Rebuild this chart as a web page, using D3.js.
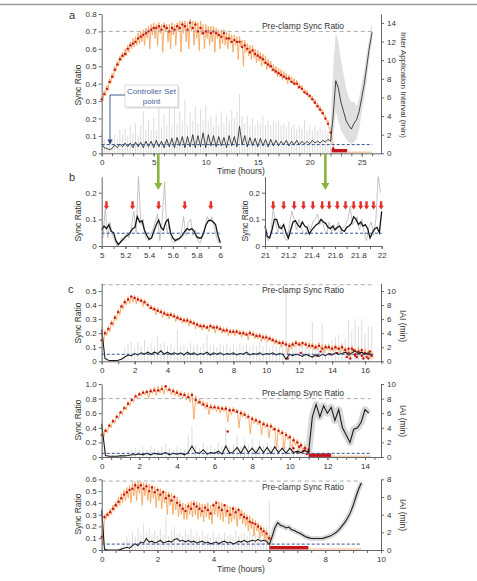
<!DOCTYPE html>
<html lang="en">
<head>
<meta charset="UTF-8">
<title>Sync ratio clamp</title>
<script src="https://cdn.jsdelivr.net/npm/d3@7"></script>
<style>
  body { margin: 0; background: #fff; }
  svg text { font-family: "Liberation Sans", Arial, sans-serif; fill: #333; }
  .axis path, .axis line { stroke: #666; }
  .axis text { font-size: 8px; fill: #333; font-family: "Liberation Sans", Arial, sans-serif; }
</style>
</head>
<body>
<svg id="fig" width="477" height="581"></svg>
<script>
// ---------- shared ----------
const setPoint = 0.05;

// ---------- panel a (whole clamp, 0-26 h, samples every 0.25 h) ----------
const aTicksX = [0, 5, 10, 15, 20, 25];
const aTicksY = [0, 0.1, 0.2, 0.3, 0.4, 0.5, 0.6, 0.7, 0.8];
const aTicksIAI = [0, 2, 4, 6, 8, 10, 12, 14];
const aStep = 0.25;
const aPreClamp = 0.7;
const aDots = [0.31,0.34,0.37,0.41,0.44,0.48,0.51,0.54,0.56,0.57,
  0.60,0.62,0.63,0.64,0.66,0.67,0.68,0.69,0.70,0.71,
  0.72,0.72,0.73,0.71,0.73,0.72,0.70,0.72,0.71,0.73,
  0.72,0.74,0.73,0.71,0.75,0.72,0.74,0.70,0.72,0.69,
  0.70,0.70,0.69,0.70,0.69,0.68,0.67,0.69,0.66,0.66,
  0.64,0.65,0.64,0.64,0.61,0.62,0.60,0.58,0.59,0.57,
  0.56,0.55,0.54,0.52,0.51,0.50,0.48,0.47,0.46,0.45,
  0.44,0.43,0.43,0.41,0.40,0.40,0.38,0.37,0.35,0.34,
  0.33,0.31,0.29,0.27,0.25,0.23,0.20,0.17,0.12,0.03];
const aHi = [0.33,0.36,0.39,0.43,0.46,0.50,0.53,0.56,0.58,0.60,
  0.62,0.64,0.66,0.67,0.69,0.70,0.71,0.72,0.73,0.74,
  0.75,0.74,0.75,0.74,0.75,0.74,0.74,0.75,0.74,0.75,
  0.76,0.76,0.76,0.75,0.77,0.76,0.76,0.75,0.76,0.74,
  0.74,0.73,0.73,0.73,0.72,0.71,0.71,0.71,0.70,0.69,
  0.68,0.68,0.67,0.67,0.65,0.65,0.63,0.62,0.62,0.60,
  0.59,0.58,0.57,0.56,0.54,0.53,0.51,0.50,0.49,0.48,
  0.47,0.46,0.45,0.44,0.43,0.42,0.40,0.39,0.37,0.36,
  0.34,0.33,0.31,0.29,0.27,0.25,0.22,0.19,0.14,0.05];
const aLo = [0.30,0.33,0.36,0.40,0.43,0.47,0.50,0.53,0.55,0.56,
  0.58,0.60,0.61,0.62,0.63,0.64,0.62,0.66,0.60,0.68,
  0.66,0.62,0.69,0.58,0.70,0.64,0.60,0.68,0.62,0.70,
  0.58,0.69,0.64,0.60,0.70,0.62,0.66,0.59,0.68,0.60,
  0.66,0.62,0.64,0.58,0.66,0.60,0.63,0.62,0.60,0.63,
  0.58,0.62,0.54,0.61,0.50,0.58,0.56,0.54,0.55,0.52,
  0.53,0.50,0.51,0.48,0.49,0.47,0.46,0.44,0.44,0.42,
  0.43,0.40,0.41,0.40,0.39,0.37,0.37,0.35,0.34,0.32,
  0.31,0.29,0.27,0.25,0.23,0.21,0.18,0.14,0.08,0.01];
const aIAI = [1.0,0.6,0.5,0.4,0.5,0.9,0.6,1.0,0.7,1.1,
  0.7,1.1,0.6,1.2,0.7,1.2,0.6,1.3,0.7,1.3,
  0.6,1.4,0.7,1.3,0.6,1.5,0.7,1.6,0.6,1.7,
  0.8,1.8,0.6,1.8,0.7,2.0,0.6,1.9,0.7,2.2,
  0.6,2.0,0.8,1.9,0.7,1.8,0.8,1.7,0.6,1.9,
  0.8,1.8,0.7,2.9,0.9,1.9,0.7,1.7,0.8,1.6,
  0.7,1.6,0.8,1.5,0.7,1.5,0.8,1.4,0.8,1.3,
  0.9,1.4,0.8,1.3,0.9,1.4,0.9,1.3,1.0,1.3,
  1.0,1.4,1.1,1.3,1.1,1.4,1.2,1.5,1.3,4.0,
  7.8,7.0,5.5,4.5,3.5,3.0,2.6,3.2,3.6,4.5,
  6.0,7.5,9.5,11.5,13.0];
const aIAIraw = [2.5,1.5,1.0,1.0,1.5,2.0,1.5,2.5,2.0,2.6,
  1.8,3.0,2.2,3.2,2.0,3.0,4.5,2.5,3.5,2.5,
  3.8,2.5,5.5,2.8,4.2,3.0,5.0,3.0,4.8,3.2,
  4.5,3.5,5.8,3.0,4.5,3.5,5.0,3.2,4.8,3.5,
  5.2,3.5,4.0,3.0,4.2,3.0,4.5,3.2,4.0,3.5,
  4.6,3.8,4.5,6.4,4.0,3.2,4.0,3.0,3.8,3.0,
  3.5,3.2,4.0,3.0,3.5,3.0,3.5,3.2,3.5,3.0,
  3.2,2.8,3.4,2.8,3.2,2.6,3.0,2.6,3.6,2.5,
  3.0,2.5,3.0,2.4,2.8,2.5,2.6,2.4,3.0];
const aBandStart = 22;
const aBandHi = [3,9,13,12,10,8.5,7,6,5.5,5.5,5,6,7.5,9,11,12.5,14];
const aBandLo = [0.5,1.5,4.5,3.5,2.5,2,1.5,1.2,1,1.2,1.5,2.5,4.5,6,8,10.5,12];
const aOff = [22.1, 23.6, 26.0];

// ---------- panel b (zoom windows, samples every 0.02 h) ----------
const bTicksLeft = [5, 5.2, 5.4, 5.6, 5.8, 6];
const bTicksRight = [21, 21.2, 21.4, 21.6, 21.8, 22];
const bTicksY = [0, 0.1, 0.2];
const bStep = 0.02;
const bLeftBlack = [0.06,0.075,0.065,0.08,0.055,0.05,0.02,0.005,0.015,0.025,
  0.035,0.04,0.05,0.065,0.07,0.11,0.09,0.095,0.06,0.04,
  0.025,0.03,0.055,0.08,0.098,0.07,0.06,0.09,0.1,0.05,
  0.03,0.02,0.025,0.03,0.04,0.055,0.065,0.06,0.065,0.055,
  0.035,0.03,0.03,0.05,0.08,0.095,0.097,0.09,0.08,0.04,0.012];
const bLeftRaw = [0.03,0.14,0.03,0.09,0.04,0.02,0.0,0.01,0.03,0.02,
  0.05,0.03,0.07,0.13,0.05,0.26,0.08,0.1,0.03,0.02,
  0.04,0.06,0.09,0.12,0.02,0.1,0.24,0.05,0.08,0.02,
  0.01,0.03,0.02,0.05,0.11,0.04,0.09,0.1,0.04,0.06,
  0.02,0.01,0.04,0.07,0.11,0.09,0.11,0.07,0.03,0.01];
const bRightBlack = [0.075,0.035,0.03,0.06,0.1,0.1,0.07,0.065,0.08,0.05,
  0.03,0.06,0.09,0.095,0.08,0.07,0.09,0.075,0.07,0.045,
  0.06,0.07,0.08,0.085,0.1,0.09,0.085,0.07,0.065,0.075,
  0.06,0.07,0.075,0.06,0.055,0.07,0.075,0.085,0.11,0.1,
  0.08,0.09,0.075,0.08,0.065,0.03,0.05,0.065,0.07,0.05,0.13];
const bRightRaw = [0.04,0.02,0.05,0.14,0.09,0.05,0.08,0.06,0.03,0.02,
  0.08,0.13,0.1,0.06,0.1,0.07,0.05,0.04,0.08,0.06,
  0.09,0.1,0.12,0.08,0.1,0.06,0.05,0.09,0.05,0.08,
  0.06,0.09,0.05,0.07,0.08,0.1,0.15,0.08,0.09,0.11,
  0.06,0.1,0.05,0.02,0.07,0.09,0.04,0.1,0.26,0.2];
const bArrowsLeft = [5.04, 5.26, 5.48, 5.70, 5.92];
const bArrowsRight = [21.07, 21.16, 21.25, 21.33, 21.41, 21.49, 21.55, 21.62, 21.69, 21.76, 21.82, 21.87, 21.93, 21.995];

// ---------- panel c1 (samples every 0.2 h) ----------
const c1TicksX = [0, 2, 4, 6, 8, 10, 12, 14, 16];
const c1TicksY = [0, 0.1, 0.2, 0.3, 0.4, 0.5];
const c1TicksIAI = [0, 2, 4, 6, 8, 10];
const c1Step = 0.2;
const c1PreClamp = 0.545;
const c1Dots = [0.15,0.20,0.23,0.27,0.31,0.35,0.39,0.42,0.44,0.46,
  0.45,0.44,0.43,0.42,0.40,0.38,0.37,0.36,0.35,0.34,
  0.33,0.33,0.32,0.31,0.30,0.29,0.29,0.28,0.27,0.26,
  0.25,0.25,0.24,0.25,0.24,0.24,0.23,0.22,0.22,0.21,
  0.21,0.21,0.20,0.20,0.19,0.20,0.19,0.18,0.18,0.17,
  0.17,0.16,0.15,0.14,0.13,0.13,0.12,0.11,0.12,0.13,
  0.12,0.13,0.12,0.11,0.11,0.10,0.11,0.09,0.10,0.10,
  0.09,0.10,0.09,0.10,0.08,0.06,0.09,0.05,0.07,0.04,
  0.06,0.05,0.04];
const c1LowT = [11.3,12.1,13.1,13.3,13.9,14.3,14.9,15.1,15.3,15.5,15.7,15.9,16.1,16.3,15.0,15.4,15.8,16.2];
const c1LowV = [0.02,0.06,0.04,0.07,0.05,0.06,0.03,0.02,0.08,0.03,0.06,0.02,0.03,0.07,0.09,0.04,0.08,0.02];
const c1Hi = [0.20,0.22,0.25,0.29,0.33,0.37,0.41,0.44,0.46,0.47,
  0.47,0.46,0.45,0.44,0.42,0.40,0.39,0.38,0.37,0.36,
  0.35,0.35,0.34,0.33,0.32,0.31,0.31,0.30,0.29,0.28,
  0.27,0.27,0.26,0.27,0.26,0.26,0.25,0.24,0.24,0.23,
  0.23,0.23,0.22,0.22,0.21,0.22,0.21,0.20,0.20,0.19,
  0.19,0.18,0.17,0.16,0.15,0.15,0.14,0.13,0.14,0.15,
  0.14,0.14,0.14,0.13,0.13,0.12,0.13,0.12,0.12,0.12,
  0.11,0.12,0.11,0.12,0.10,0.10,0.11,0.09,0.10,0.09,
  0.09,0.08,0.07];
const c1Lo = [0.12,0.18,0.21,0.25,0.29,0.33,0.37,0.40,0.41,0.42,
  0.41,0.42,0.39,0.40,0.37,0.36,0.33,0.34,0.31,0.32,
  0.30,0.31,0.28,0.29,0.27,0.27,0.25,0.26,0.23,0.24,
  0.22,0.23,0.21,0.23,0.20,0.22,0.20,0.20,0.18,0.19,
  0.18,0.19,0.17,0.18,0.15,0.18,0.16,0.16,0.14,0.15,
  0.14,0.14,0.12,0.12,0.10,0.11,0.05,0.09,0.10,0.11,
  0.10,0.11,0.09,0.09,0.08,0.08,0.09,0.06,0.08,0.07,
  0.07,0.08,0.06,0.07,0.04,0.03,0.06,0.02,0.04,0.02,
  0.03,0.02,0.02];
const c1IAI = [4.5,0.4,0.15,0.1,0.1,0.15,0.3,0.6,0.9,0.8,
  1.1,0.9,1.2,1.0,1.3,1.0,1.3,1.1,1.5,1.0,
  1.3,1.0,1.2,1.0,1.2,0.9,1.3,1.0,1.2,0.9,
  1.1,1.0,1.3,0.9,1.2,1.0,1.2,0.9,1.1,1.0,
  1.2,0.9,1.1,1.0,1.3,0.9,1.1,1.0,1.2,0.9,
  1.1,1.0,1.2,0.9,1.1,1.0,0.3,1.0,0.8,1.0,
  0.9,0.7,1.0,0.8,0.6,0.9,0.7,1.0,0.8,1.1,
  0.9,1.2,1.0,1.1,1.3,0.9,1.2,1.5,1.1,1.3,
  1.0,1.2,0.9];
const c1IAIraw = [5.0,0.5,0.3,0.2,0.2,0.3,0.6,1.8,2.5,2.8,
  2.0,2.8,2.2,3.0,2.0,2.6,2.2,3.5,2.5,2.8,
  2.2,2.6,2.0,4.5,2.2,2.5,2.0,2.6,2.2,2.4,
  2.0,2.6,3.8,2.2,2.4,2.0,2.5,2.2,2.6,2.0,
  2.4,2.0,2.6,2.2,2.5,2.0,2.4,2.2,2.6,2.2,
  3.0,2.0,2.4,2.2,2.0,2.4,10.0,2.5,2.2,2.8,
  2.0,2.6,2.4,3.0,5.6,2.2,2.8,5.4,2.4,2.6,
  3.0,3.4,3.8,2.8,3.2,5.8,4.5,6.0,5.0,6.0,
  4.0,5.0,4.9];

// ---------- panel c2 (samples every 0.2 h) ----------
const c2TicksX = [0, 2, 4, 6, 8, 10, 12, 14];
const c2TicksY = [0, 0.2, 0.4, 0.6, 0.8, 1.0];
const c2TicksIAI = [0, 2, 4, 6, 8, 10];
const c2Step = 0.2;
const c2PreClamp = 0.8;
const c2Dots = [0.30,0.36,0.43,0.49,0.55,0.61,0.67,0.73,0.78,0.83,
  0.86,0.88,0.89,0.90,0.91,0.91,0.93,0.97,0.92,0.90,
  0.88,0.86,0.85,0.82,0.85,0.78,0.75,0.72,0.70,0.68,
  0.68,0.67,0.66,0.66,0.64,0.64,0.62,0.60,0.58,0.55,
  0.52,0.50,0.48,0.45,0.43,0.42,0.38,0.36,0.33,0.30,
  0.27,0.23,0.20,0.16,0.12,0.08];
const c2LowT = [6.7, 10.2, 10.4, 10.5, 10.7, 10.8, 10.9, 11.0];
const c2LowV = [0.35, 0.12, 0.06, 0.14, 0.08, 0.12, 0.04, 0.10];
const c2Hi = [0.33,0.39,0.46,0.52,0.58,0.64,0.70,0.76,0.81,0.86,
  0.89,0.91,0.92,0.94,0.96,0.97,0.98,0.98,0.96,0.94,
  0.92,0.90,0.89,0.88,0.88,0.84,0.80,0.77,0.75,0.73,
  0.72,0.71,0.70,0.70,0.68,0.68,0.66,0.64,0.62,0.59,
  0.56,0.54,0.52,0.49,0.47,0.46,0.42,0.40,0.37,0.34,
  0.31,0.27,0.24,0.20,0.16,0.11];
const c2Lo = [0.25,0.33,0.40,0.46,0.52,0.58,0.64,0.70,0.75,0.80,
  0.83,0.85,0.80,0.87,0.84,0.88,0.86,0.90,0.85,0.84,
  0.82,0.80,0.78,0.75,0.52,0.72,0.70,0.66,0.58,0.64,
  0.62,0.60,0.62,0.48,0.58,0.60,0.40,0.55,0.52,0.32,
  0.46,0.44,0.30,0.40,0.26,0.36,0.12,0.30,0.10,0.24,
  0.05,0.16,0.08,0.05,0.03,0.02];
const c2IAI = [4.5,0.2,0.1,0.1,0.1,0.15,0.15,0.2,0.3,0.3,
  0.4,0.3,0.5,0.3,0.5,0.4,0.4,0.6,0.3,0.5,
  0.4,0.5,0.3,0.6,1.5,0.6,0.5,1.0,0.4,0.6,
  0.5,0.8,0.4,1.5,0.5,0.7,1.3,0.5,1.5,0.6,
  1.2,0.5,1.4,0.6,1.3,0.5,1.4,0.6,1.2,0.5,
  1.2,0.6,0.8,0.6,0.9,0.6,5.5,7.2,5.5,7.0,
  6.0,6.8,5.0,6.5,4.0,3.0,2.0,3.8,4.0,4.8,
  6.5,6.0];
const c2IAIraw = [5.0,1.0,0.3,0.3,0.3,0.4,0.5,0.8,1.0,1.2,
  1.0,1.4,1.0,1.6,1.2,1.0,1.4,1.8,1.2,1.0,
  1.4,1.2,1.0,3.0,4.2,1.6,1.2,2.0,1.4,1.5,
  1.2,2.0,1.5,4.0,1.4,1.8,3.0,1.5,2.5,1.6,
  2.5,1.4,2.2,1.6,2.0,1.5,2.4,1.6,2.0,1.4,
  2.2,1.6,2.0,1.8,2.2,3.0];
const c2Off = [11.0, 12.2, 14.3];

// ---------- panel c3 (samples every 0.1 h) ----------
const c3TicksX = [0, 2, 4, 6, 8, 10];
const c3TicksY = [0, 0.1, 0.2, 0.3, 0.4, 0.5, 0.6];
const c3TicksIAI = [0, 2, 4, 6, 8];
const c3Step = 0.1;
const c3PreClamp = 0.585;
const c3Dots = [0.11,0.28,0.30,0.32,0.35,0.38,0.41,0.44,0.47,0.49,
  0.51,0.52,0.55,0.53,0.55,0.52,0.54,0.50,0.53,0.49,
  0.51,0.47,0.49,0.44,0.46,0.42,0.45,0.40,0.38,0.35,
  0.33,0.37,0.35,0.39,0.37,0.35,0.33,0.36,0.34,0.31,
  0.38,0.40,0.36,0.34,0.38,0.33,0.30,0.35,0.32,0.34,
  0.30,0.28,0.27,0.24,0.23,0.22,0.20,0.18,0.16,0.14,0.10];
const c3Hi = [0.15,0.30,0.32,0.35,0.38,0.41,0.45,0.48,0.51,0.53,
  0.55,0.57,0.58,0.58,0.58,0.57,0.57,0.56,0.55,0.54,
  0.53,0.52,0.51,0.50,0.49,0.48,0.47,0.45,0.42,0.40,
  0.39,0.40,0.41,0.42,0.41,0.40,0.39,0.39,0.40,0.38,
  0.40,0.42,0.41,0.40,0.39,0.38,0.37,0.37,0.36,0.36,
  0.34,0.32,0.30,0.29,0.27,0.25,0.23,0.21,0.19,0.17,0.13];
const c3Lo = [0.05,0.26,0.28,0.30,0.33,0.36,0.38,0.40,0.42,0.44,
  0.40,0.46,0.42,0.48,0.38,0.46,0.42,0.40,0.44,0.36,
  0.42,0.35,0.40,0.30,0.38,0.30,0.34,0.28,0.30,0.26,
  0.26,0.30,0.28,0.30,0.26,0.28,0.24,0.28,0.26,0.22,
  0.30,0.28,0.26,0.24,0.28,0.22,0.24,0.26,0.20,0.26,
  0.22,0.20,0.16,0.18,0.12,0.16,0.10,0.12,0.08,0.08,0.04];
const c3IAI = [4.5,0.1,0.0,0.0,0.0,0.0,0.0,0.1,0.2,0.3,
  0.2,0.5,0.7,0.5,0.9,0.8,1.3,0.9,1.0,0.8,
  0.9,1.1,0.8,0.9,1.0,0.9,1.2,1.3,1.0,1.1,
  0.9,1.1,0.9,1.0,0.8,0.9,1.0,0.8,0.9,0.7,
  0.8,0.9,0.7,0.9,1.0,0.8,0.9,0.7,0.8,1.0,
  0.9,1.1,0.9,1.0,1.1,1.0,1.2,1.0,1.1,1.0,
  0.6,1.5,2.5,3.1,2.8,2.7,2.5,2.6,2.3,2.2,
  2.0,1.9,1.7,1.5,1.4,1.3,1.3,1.3,1.3,1.3,
  1.4,1.5,1.6,1.8,2.0,2.3,2.7,3.1,3.6,4.2,
  5.0,6.0,6.9,7.6];
const c3IAIraw = [4.8,0.3,0.1,0.1,0.1,0.1,0.2,0.5,1.0,1.5,
  1.2,2.0,1.5,2.5,1.8,3.0,2.0,2.5,1.8,2.2,
  1.6,2.4,1.8,3.8,1.6,2.2,2.6,1.8,2.0,1.6,
  2.2,1.8,2.4,1.6,2.0,1.5,2.2,1.6,1.8,1.4,
  2.0,1.5,1.8,1.4,2.0,1.6,1.8,1.5,2.2,1.6,
  1.8,2.0,1.6,2.2,1.8,2.0,1.6,2.2,1.8,2.6,5.6];
const c3Off = [6.0, 7.4, 9.3];

// ---------- drawing ----------
const svg = d3.select('#fig');
const RED = '#c5161d', ORANGE = '#f6a55c', GRAY = '#d3d3d3', BLUE = '#34528f', PEACH = '#f4cfae';
const fmt1 = d => d === 0 ? '0' : d3.format('.1f')(d);

// top rule
svg.append('line').attr('x1', 0).attr('x2', 477).attr('y1', 4.5).attr('y2', 4.5)
  .attr('stroke', '#9a9a9a').attr('stroke-width', 1.5);

function setup(p) {
  p.x = d3.scaleLinear().domain(p.xDom).range([p.left, p.right]);
  p.y = d3.scaleLinear().domain(p.yDom).range([p.bottom, p.top]);
  if (p.y2Dom) p.y2 = d3.scaleLinear().domain(p.y2Dom).range([p.bottom, p.top]);
  p.g = svg.append('g');
  p.marks = p.g.append('g');
  const ax = p.g.append('g');
  ax.append('g').attr('class', 'axis').attr('transform', `translate(0,${p.bottom})`)
    .call(d3.axisBottom(p.x).tickValues(p.xMinor).tickSize(3).tickFormat(''))
    .select('.domain').remove();
  ax.append('g').attr('class', 'axis').attr('transform', `translate(0,${p.bottom})`)
    .call(d3.axisBottom(p.x).tickValues(p.xMajor).tickSize(3).tickSizeOuter(0).tickPadding(3)
      .tickFormat(p.xFmt || d3.format('~g')));
  ax.append('g').attr('class', 'axis').attr('transform', `translate(${p.left},0)`)
    .call(d3.axisLeft(p.y).tickValues(p.yTicks).tickSize(3).tickSizeOuter(0).tickPadding(2).tickFormat(p.yFmt || fmt1));
  if (p.y2) {
    ax.append('g').attr('class', 'axis').attr('transform', `translate(${p.right},0)`)
      .call(d3.axisRight(p.y2).tickValues(p.y2Ticks).tickSize(3).tickSizeOuter(0).tickPadding(3).tickFormat(d3.format('d')));
  }
  return p;
}

function vlabel(x, y, txt, rot, size) {
  svg.append('text').attr('transform', `translate(${x},${y}) rotate(${rot})`)
    .attr('text-anchor', 'middle').attr('dominant-baseline', 'central')
    .attr('font-size', size || 8.5).text(txt);
}

function drawClamp(p, s) {
  const g = p.marks;
  const line = d3.line();
  // raw inter application intervals (gray)
  g.append('g').selectAll('line').data(s.raw).join('line')
    .attr('x1', (d, i) => p.x(i * s.step)).attr('x2', (d, i) => p.x(i * s.step))
    .attr('y1', p.y2(0)).attr('y2', d => p.y2(d))
    .attr('stroke', GRAY).attr('stroke-width', 0.8);
  // post-clamp spread
  if (s.bandHi) {
    const area = d3.area().x((d, i) => p.x(s.bandStart + i * s.step))
      .y0((d, i) => p.y2(s.bandLo[i])).y1(d => p.y2(d));
    g.append('path').attr('d', area(s.bandHi)).attr('fill', '#e0e0e0');
  }
  if (s.haloFrom != null) {
    const pts = s.iai.map((v, i) => [p.x(i * s.iaiStep), p.y2(v)]).slice(s.haloFrom);
    g.append('path').attr('d', line(pts)).attr('fill', 'none')
      .attr('stroke', '#d9d9d9').attr('stroke-width', s.haloW).attr('stroke-linejoin', 'round');
  }
  // orange raw sync ratio
  const zz = [];
  const n = Math.min(s.hi.length, s.lo.length);
  for (let i = 0; i < n; i++) {
    zz.push([p.x(i * s.step), p.y(s.hi[i])]);
    zz.push([p.x((i + 0.5) * s.step), p.y(s.lo[i])]);
  }
  g.append('path').attr('d', line(zz)).attr('fill', 'none')
    .attr('stroke', ORANGE).attr('stroke-width', 0.9);
  // red clamp dots
  g.append('g').selectAll('circle').data(s.dots).join('circle')
    .attr('cx', (d, i) => p.x(i * s.step)).attr('cy', d => p.y(d))
    .attr('r', 1.2).attr('fill', RED);
  if (s.lowT) {
    g.append('g').selectAll('circle').data(s.lowV).join('circle')
      .attr('cx', (d, i) => p.x(s.lowT[i])).attr('cy', d => p.y(d))
      .attr('r', 1.2).attr('fill', RED);
  }
  // post-clamp bars
  if (s.off) {
    g.append('line').attr('x1', p.x(s.off[1])).attr('x2', p.x(s.off[2]))
      .attr('y1', p.y(s.offY * 0.4)).attr('y2', p.y(s.offY * 0.4))
      .attr('stroke', PEACH).attr('stroke-width', 1.6);
    g.append('line').attr('x1', p.x(s.off[0])).attr('x2', p.x(s.off[1]))
      .attr('y1', p.y(s.offY)).attr('y2', p.y(s.offY))
      .attr('stroke', RED).attr('stroke-width', 3.5);
  }
  // smoothed IAI (black)
  g.append('path').attr('d', line(s.iai.map((v, i) => [p.x(i * s.iaiStep), p.y2(v)])))
    .attr('fill', 'none').attr('stroke', '#1c1c1c').attr('stroke-width', s.blackW || 1);
  // set point and pre-clamp level
  g.append('line').attr('x1', p.x(0)).attr('x2', p.x(s.end))
    .attr('y1', p.y(setPoint)).attr('y2', p.y(setPoint))
    .attr('stroke', BLUE).attr('stroke-width', 1).attr('stroke-dasharray', '3,2');
  g.append('line').attr('x1', p.x(0)).attr('x2', p.x(s.end))
    .attr('y1', p.y(s.pre)).attr('y2', p.y(s.pre))
    .attr('stroke', '#ababab').attr('stroke-width', 1).attr('stroke-dasharray', '4,3');
  svg.append('text').attr('x', 303).attr('y', s.preLabelY).attr('text-anchor', 'middle')
    .attr('font-size', 8.5).text('Pre-clamp Sync Ratio');
}

// ----- panel a -----
const pa = setup({ left: 101.7, right: 381, top: 14, bottom: 153.3,
  xDom: [0, 26.85], yDom: [0, 0.8], y2Dom: [0, 14.96],
  xMajor: aTicksX, xMinor: d3.range(0, 27, 1), yTicks: aTicksY, y2Ticks: aTicksIAI });
drawClamp(pa, { step: aStep, iaiStep: aStep, dots: aDots, hi: aHi, lo: aLo, iai: aIAI, raw: aIAIraw,
  bandStart: aBandStart, bandHi: aBandHi, bandLo: aBandLo, off: aOff, offY: 0.015,
  end: 26, pre: aPreClamp, preLabelY: 28.5, blackW: 0.8 });
vlabel(78, 85, 'Sync Ratio', -90);
vlabel(403, 85, 'Inter Application Interval (min)', 90, 8);
svg.append('text').attr('x', 241).attr('y', 174).attr('text-anchor', 'middle').attr('font-size', 8.5).text('Time (hours)');
svg.append('text').attr('x', 69).attr('y', 19).attr('font-size', 11).text('a');

// controller set point callout
svg.append('rect').attr('x', 126.5).attr('y', 86.5).attr('width', 53).attr('height', 22).attr('fill', '#dcdcdc');
svg.append('rect').attr('x', 125).attr('y', 85).attr('width', 53).attr('height', 22)
  .attr('fill', '#fff').attr('stroke', '#cfcfcf').attr('stroke-width', 0.7);
svg.append('text').attr('x', 151.5).attr('y', 94).attr('text-anchor', 'middle').attr('font-size', 8)
  .style('fill', '#4a5fa0').text('Controller Set');
svg.append('text').attr('x', 151.5).attr('y', 103.5).attr('text-anchor', 'middle').attr('font-size', 8)
  .style('fill', '#4a5fa0').text('point');
svg.append('path').attr('d', 'M125,95 H110 V140').attr('fill', 'none').attr('stroke', '#2e4a82').attr('stroke-width', 0.9);
svg.append('path').attr('d', 'M107.5,139.5 L112.5,139.5 L110,145 Z').attr('fill', '#2e4a82');

// ----- panel b -----
function drawZoom(p, black, raw, arrows, t0) {
  const line = d3.line();
  p.marks.append('path').attr('d', line(raw.map((v, i) => [p.x(t0 + bStep / 2 + i * bStep), p.y(v)])))
    .attr('fill', 'none').attr('stroke', '#b5b5b5').attr('stroke-width', 0.8);
  p.marks.append('path').attr('d', line(black.map((v, i) => [p.x(t0 + i * bStep), p.y(v)])))
    .attr('fill', 'none').attr('stroke', '#151515').attr('stroke-width', 1.3);
  p.marks.append('line').attr('x1', p.x(t0)).attr('x2', p.x(t0 + 1))
    .attr('y1', p.y(0.048)).attr('y2', p.y(0.048))
    .attr('stroke', BLUE).attr('stroke-width', 1).attr('stroke-dasharray', '3,2');
  p.marks.append('g').selectAll('path').data(arrows).join('path')
    .attr('d', d => {
      const x = p.x(d), y0 = p.y(0.168), y1 = p.y(0.151), y2 = p.y(0.137);
      return `M${x - 1.2},${y0} H${x + 1.2} V${y1} H${x + 2.7} L${x},${y2} L${x - 2.7},${y1} H${x - 1.2} Z`;
    })
    .attr('fill', '#e3302a');
}
const pbL = setup({ left: 101.7, right: 220.3, top: 176.7, bottom: 246,
  xDom: [5, 6], yDom: [0, 0.26], xMajor: bTicksLeft, xMinor: d3.range(5, 6.05, 0.1), yTicks: bTicksY });
drawZoom(pbL, bLeftBlack, bLeftRaw, bArrowsLeft, 5);
const pbR = setup({ left: 265, right: 381.7, top: 176.7, bottom: 246,
  xDom: [21, 22], yDom: [0, 0.26], xMajor: bTicksRight, xMinor: d3.range(21, 22.05, 0.1), yTicks: bTicksY });
drawZoom(pbR, bRightBlack, bRightRaw, bArrowsRight, 21);
vlabel(78, 221, 'Sync Ratio', -90);
vlabel(245, 221, 'Sync Ratio', -90);
svg.append('text').attr('x', 69).attr('y', 181).attr('font-size', 11).text('b');

// green arrows from panel a to the zoom windows
[5.44, 21.5].forEach(t => {
  const x = pa.x(t);
  svg.append('path')
    .attr('d', `M${x - 1.3},154 V183 H${x - 4} L${x},190 L${x + 4},183 H${x + 1.3} V154 Z`)
    .attr('fill', '#8ab43c');
});

// ----- panel c1 -----
const pc1 = setup({ left: 101.7, right: 381, top: 283.3, bottom: 361.3,
  xDom: [0, 16.97], yDom: [0, 0.555], y2Dom: [0, 11.1],
  xMajor: c1TicksX, xMinor: d3.range(0, 17.5, 1), yTicks: c1TicksY, y2Ticks: c1TicksIAI });
drawClamp(pc1, { step: c1Step, iaiStep: c1Step, dots: c1Dots, hi: c1Hi, lo: c1Lo, iai: c1IAI, raw: c1IAIraw,
  lowT: c1LowT, lowV: c1LowV, end: 16.5, pre: c1PreClamp, preLabelY: 293, blackW: 1.1 });
vlabel(78, 323, 'Sync Ratio', -90);
vlabel(403, 326, 'IAI (min)', 90);
svg.append('text').attr('x', 68).attr('y', 293).attr('font-size', 11).text('c');

// ----- panel c2 -----
const pc2 = setup({ left: 101.7, right: 381, top: 384, bottom: 457,
  xDom: [0, 14.85], yDom: [0, 1], y2Dom: [0, 10],
  xMajor: c2TicksX, xMinor: d3.range(0, 14.85, 0.5), yTicks: c2TicksY, y2Ticks: c2TicksIAI });
drawClamp(pc2, { step: c2Step, iaiStep: c2Step, dots: c2Dots, hi: c2Hi, lo: c2Lo, iai: c2IAI, raw: c2IAIraw,
  lowT: c2LowT, lowV: c2LowV, off: c2Off, offY: 0.025, haloFrom: 55, haloW: 7,
  end: 14.3, pre: c2PreClamp, preLabelY: 396, blackW: 1.1 });
vlabel(78, 420, 'Sync Ratio', -90);
vlabel(403, 421, 'IAI (min)', 90);

// ----- panel c3 -----
const pc3 = setup({ left: 101.7, right: 381, top: 479.3, bottom: 550,
  xDom: [0, 10], yDom: [0, 0.6], y2Dom: [0, 8],
  xMajor: c3TicksX, xMinor: d3.range(0, 10.01, 0.5), yTicks: c3TicksY, y2Ticks: c3TicksIAI });
drawClamp(pc3, { step: c3Step, iaiStep: c3Step, dots: c3Dots, hi: c3Hi, lo: c3Lo, iai: c3IAI, raw: c3IAIraw,
  off: c3Off, offY: 0.02, haloFrom: 60, haloW: 5,
  end: 9.3, pre: c3PreClamp, preLabelY: 489.5, blackW: 1.1 });
vlabel(78, 514, 'Sync Ratio', -90);
vlabel(403, 515, 'IAI (min)', 90);
svg.append('text').attr('x', 241).attr('y', 572).attr('text-anchor', 'middle').attr('font-size', 8.5).text('Time (hours)');
</script>
</body>
</html>
